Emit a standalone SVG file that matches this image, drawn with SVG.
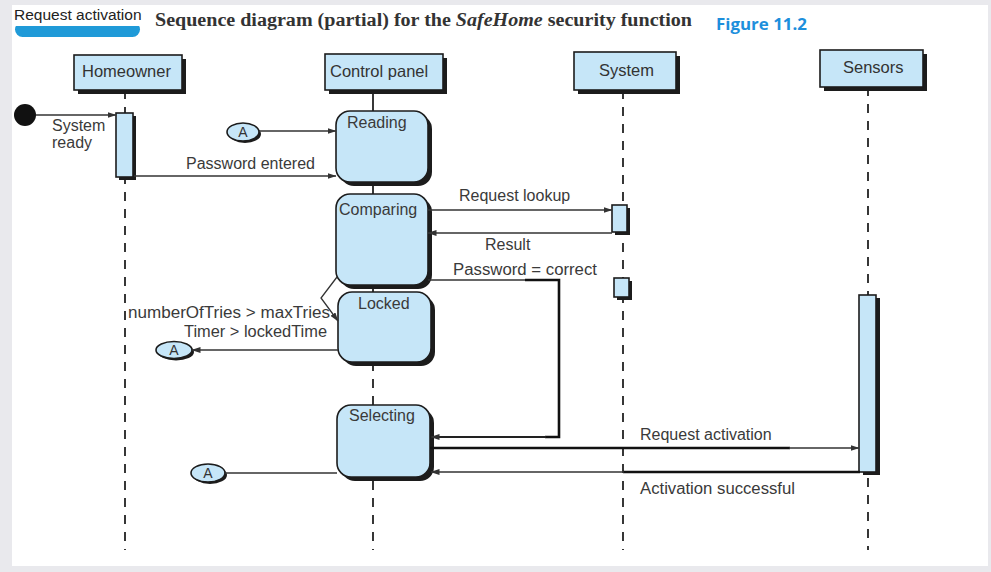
<svg xmlns="http://www.w3.org/2000/svg" width="991" height="572" viewBox="0 0 991 572">
<defs>
<style>
.bg{fill:#e9e9ed}
.page{fill:#ffffff}
.hdr{fill:#c6e6f8;stroke:#1c1c1c;stroke-width:1.6}
.shd{fill:#1c1c1c}
.st{fill:#c6e6f8;stroke:#1c1c1c;stroke-width:1.6}
.lbl{font-family:"Liberation Sans",Arial,sans-serif;font-size:16px;fill:#3a3a3a}
.hlbl{font-family:"Liberation Sans",Arial,sans-serif;font-size:16.5px;fill:#333}
.life{stroke:#222;stroke-width:1.8;stroke-dasharray:9 8;fill:none}
.solid{stroke:#222;stroke-width:1.8;fill:none}
.msg{stroke:#333;stroke-width:1.3;fill:none}
.thick{stroke:#111;stroke-width:2.6;fill:none}
.med{stroke:#222;stroke-width:1.8;fill:none}
.alb{font-family:"Liberation Sans",Arial,sans-serif;font-size:14px;fill:#333;text-anchor:middle}
</style>
<marker id="arr" markerWidth="9" markerHeight="6" refX="8.5" refY="3" orient="auto" markerUnits="userSpaceOnUse">
<path d="M0,0 L9,3 L0,6 z" fill="#333"/>
</marker>
</defs>

<rect class="bg" x="0" y="0" width="991" height="572"/>
<rect class="page" x="12" y="5" width="976" height="561"/>

<g id="title">
<rect x="15" y="22" width="125" height="15" rx="7.5" fill="#1f9ad8"/>
<rect x="15" y="22" width="125" height="4" fill="#ffffff"/>
<text x="14" y="20" font-family="Liberation Sans,Arial,sans-serif" font-size="15.5" fill="#222">Request activation</text>
<text x="155" y="26" font-family="Liberation Serif,serif" font-size="18" font-weight="bold" fill="#333" textLength="537" lengthAdjust="spacingAndGlyphs">Sequence diagram (partial) for the <tspan font-style="italic">SafeHome</tspan> security function</text>
<text x="716" y="30" font-family="Open Sans,Liberation Sans,sans-serif" font-size="16.5" font-weight="bold" fill="#1d8fdc" textLength="91" lengthAdjust="spacingAndGlyphs">Figure 11.2</text>
</g>

<g id="lifelines">
<line class="life" x1="125" y1="90" x2="125" y2="550"/>
<line class="life" x1="373" y1="362" x2="373" y2="550"/>
<line class="solid" x1="373" y1="90" x2="373" y2="111"/>
<line class="solid" x1="373" y1="182" x2="373" y2="194"/>
<line class="solid" x1="373" y1="285" x2="373" y2="292"/>
<line class="life" x1="623" y1="90" x2="623" y2="550"/>
<line class="life" x1="868" y1="87" x2="868" y2="550"/>
</g>

<g id="homeowner">
<rect class="shd" x="78" y="59" width="108" height="35"/>
<rect class="hdr" x="74" y="55" width="108" height="35"/>
<text class="hlbl" x="82" y="77">Homeowner</text>
</g>
<g id="control-panel">
<rect class="shd" x="329" y="58" width="118" height="36"/>
<rect class="hdr" x="325" y="54" width="118" height="36"/>
<text class="hlbl" x="330" y="77">Control panel</text>
</g>
<g id="system">
<rect class="shd" x="578" y="56" width="102" height="38"/>
<rect class="hdr" x="574" y="52" width="102" height="38"/>
<text class="hlbl" x="599" y="76">System</text>
</g>
<g id="sensors">
<rect class="shd" x="824" y="54" width="103" height="37"/>
<rect class="hdr" x="820" y="50" width="103" height="37"/>
<text class="hlbl" x="843" y="73">Sensors</text>
</g>

<g id="start">
<circle cx="25" cy="115" r="11" fill="#111"/>
</g>

<g id="homeowner-activation">
<rect class="shd" x="119" y="116" width="17" height="64"/>
<rect class="st" x="116" y="113" width="17" height="64"/>
</g>
<g id="system-activation-1">
<rect class="shd" x="615" y="208" width="15" height="27"/>
<rect class="st" x="612" y="205" width="15" height="27"/>
</g>
<g id="system-activation-2">
<rect class="shd" x="617" y="281" width="15" height="19"/>
<rect class="st" x="614" y="278" width="15" height="19"/>
</g>
<g id="sensors-activation">
<rect class="shd" x="863" y="298" width="17" height="177"/>
<rect class="st" x="859" y="295" width="17" height="177"/>
</g>

<g id="reading">
<rect class="shd" x="340" y="115" width="92" height="71" rx="14"/>
<rect class="st" x="336" y="111" width="92" height="71" rx="14"/>
<text class="lbl" x="347" y="128">Reading</text>
</g>
<g id="comparing">
<rect class="shd" x="340" y="198" width="92" height="91" rx="14"/>
<rect class="st" x="336" y="194" width="92" height="91" rx="14"/>
<text class="lbl" x="339" y="215">Comparing</text>
</g>
<g id="locked">
<rect class="shd" x="342" y="296" width="93" height="70" rx="14"/>
<rect class="st" x="338" y="292" width="93" height="70" rx="14"/>
<text class="lbl" x="358" y="309">Locked</text>
</g>
<g id="selecting">
<rect class="shd" x="341" y="409" width="93" height="72" rx="14"/>
<rect class="st" x="337" y="405" width="93" height="72" rx="14"/>
<text class="lbl" x="349" y="421">Selecting</text>
</g>

<g id="connector-a-1">
<ellipse class="shd" cx="245" cy="134" rx="16" ry="9"/>
<ellipse class="st" cx="243" cy="132" rx="16" ry="9"/>
<text class="alb" x="243" y="137">A</text>
</g>
<g id="connector-a-2">
<ellipse class="shd" cx="176" cy="352" rx="18" ry="8.5"/>
<ellipse class="st" cx="174" cy="350" rx="18" ry="8.5"/>
<text class="alb" x="174" y="355">A</text>
</g>
<g id="connector-a-3">
<ellipse class="shd" cx="210" cy="475" rx="17" ry="9"/>
<ellipse class="st" cx="208" cy="473" rx="17" ry="9"/>
<text class="alb" x="208" y="478">A</text>
</g>

<g id="connectors">
<line class="msg" x1="36" y1="115" x2="116" y2="115" marker-end="url(#arr)"/>
<line class="msg" x1="259" y1="131" x2="336" y2="131" marker-end="url(#arr)"/>
<line class="msg" x1="134" y1="176" x2="336" y2="176" marker-end="url(#arr)"/>
<line class="msg" x1="428" y1="210" x2="612" y2="210" marker-end="url(#arr)"/>
<line class="msg" x1="612" y1="233" x2="428" y2="233" marker-end="url(#arr)"/>
<line class="msg" x1="428" y1="280" x2="526" y2="280"/>
<polyline class="thick" points="525,280 559,280 559,437 545,437"/>
<line class="med" x1="546" y1="437" x2="431" y2="437" marker-end="url(#arr)"/>
<polyline class="msg" points="337,277 321,298 338,321" marker-end="url(#arr)"/>
<line class="msg" x1="338" y1="350" x2="192" y2="350" marker-end="url(#arr)"/>
<line class="thick" x1="430" y1="448" x2="790" y2="448"/>
<line class="msg" x1="789" y1="448" x2="859" y2="448" marker-end="url(#arr)"/>
<line class="thick" x1="860" y1="472" x2="623" y2="472"/>
<line class="msg" x1="624" y1="472" x2="431" y2="472" marker-end="url(#arr)"/>
<line class="msg" x1="337" y1="473" x2="225" y2="473"/>
</g>

<g id="labels">
<text class="lbl" x="52" y="131" font-size="14.5">System</text>
<text class="lbl" x="52" y="148" font-size="14.5">ready</text>
<text class="lbl" x="186" y="169" font-size="16.5">Password entered</text>
<text class="lbl" x="459" y="201">Request lookup</text>
<text class="lbl" x="485" y="250">Result</text>
<text class="lbl" x="453" y="275" textLength="144" lengthAdjust="spacingAndGlyphs">Password = correct</text>
<text class="lbl" x="128" y="318" textLength="202" lengthAdjust="spacingAndGlyphs">numberOfTries &gt; maxTries</text>
<text class="lbl" x="184" y="337" textLength="143" lengthAdjust="spacingAndGlyphs">Timer &gt; lockedTime</text>
<text class="lbl" x="640" y="440">Request activation</text>
<text class="lbl" x="640" y="494" textLength="155" lengthAdjust="spacingAndGlyphs">Activation successful</text>
</g>
</svg>
